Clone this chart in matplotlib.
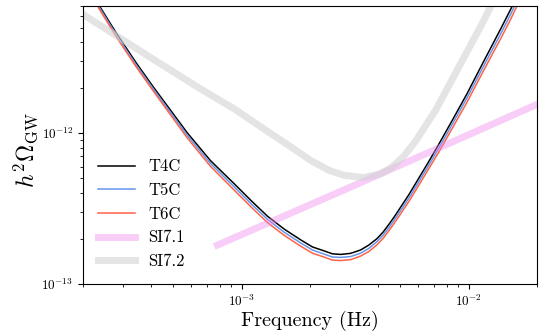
import matplotlib
matplotlib.use("Agg")
import matplotlib.pyplot as plt
from matplotlib.ticker import NullFormatter

plt.rcParams["font.family"] = "cmr10"
plt.rcParams["mathtext.fontset"] = "cm"
plt.rcParams["axes.formatter.use_mathtext"] = True

# sensitivity curves
freq_t = [2.2e-4, 2.37e-4, 2.81e-4, 3.44e-4, 4.11e-4, 5.77e-4, 7.3e-4, 9.25e-4,
          1.10e-3, 1.30e-3, 1.54e-3, 1.82e-3, 2.05e-3, 2.30e-3, 2.51e-3, 2.73e-3,
          3.02e-3, 3.34e-3, 3.63e-3, 3.95e-3, 4.20e-3, 4.45e-3, 4.72e-3, 5.01e-3,
          5.46e-3, 5.93e-3, 6.61e-3, 7.38e-3, 8.51e-3, 9.83e-3, 1.16e-2, 1.38e-2,
          1.53e-2, 1.6e-2, 1.7e-2]
t4c = [8.36e-12, 6.90e-12, 4.57e-12, 2.90e-12, 1.99e-12, 1.00e-12, 6.55e-13, 4.63e-13,
       3.57e-13, 2.81e-13, 2.31e-13, 1.96e-13, 1.76e-13, 1.66e-13, 1.585e-13, 1.57e-13,
       1.596e-13, 1.68e-13, 1.81e-13, 2.00e-13, 2.21e-13, 2.48e-13, 2.81e-13, 3.22e-13,
       3.92e-13, 4.82e-13, 6.32e-13, 8.41e-13, 1.23e-12, 1.82e-12, 2.95e-12, 4.86e-12,
       6.59e-12, 7.60e-12, 9.10e-12]
t5c = [8.15e-12, 6.73e-12, 4.45e-12, 2.81e-12, 1.93e-12, 9.62e-13, 6.27e-13, 4.41e-13,
       3.40e-13, 2.68e-13, 2.20e-13, 1.87e-13, 1.68e-13, 1.58e-13, 1.51e-13, 1.50e-13,
       1.52e-13, 1.60e-13, 1.72e-13, 1.91e-13, 2.11e-13, 2.36e-13, 2.68e-13, 3.06e-13,
       3.72e-13, 4.57e-13, 5.98e-13, 7.92e-13, 1.16e-12, 1.71e-12, 2.75e-12, 4.51e-12,
       6.11e-12, 7.05e-12, 8.44e-12]
t6c = [7.95e-12, 6.56e-12, 4.32e-12, 2.73e-12, 1.87e-12, 9.25e-13, 6.00e-13, 4.20e-13,
       3.24e-13, 2.55e-13, 2.10e-13, 1.78e-13, 1.60e-13, 1.51e-13, 1.44e-13, 1.43e-13,
       1.45e-13, 1.53e-13, 1.64e-13, 1.82e-13, 2.01e-13, 2.25e-13, 2.55e-13, 2.91e-13,
       3.53e-13, 4.33e-13, 5.67e-13, 7.46e-13, 1.09e-12, 1.60e-12, 2.57e-12, 4.19e-12,
       5.66e-12, 6.53e-12, 7.82e-12]

# SI7.1 power law
freq_si71 = [7.82e-4, 3.0e-3, 1.0e-2, 3.0e-2]
si71 = [1.81e-13, 4.37e-13, 9.75e-13, 2.03e-12]

# SI7.2
freq_si72 = [1.8e-4, 1.99e-4, 3.91e-4, 6.49e-4, 9.25e-4, 1.34e-3, 1.61e-3, 2.01e-3,
             2.42e-3, 2.82e-3, 3.45e-3, 4.09e-3, 4.60e-3, 5.18e-3, 5.83e-3, 7.14e-3,
             9.04e-3, 1.144e-2, 1.246e-2, 1.315e-2]
si72 = [6.8e-12, 6.14e-12, 3.21e-12, 1.99e-12, 1.45e-12, 9.95e-13, 8.29e-13, 6.60e-13,
        5.67e-13, 5.25e-13, 5.07e-13, 5.37e-13, 5.96e-13, 7.03e-13, 8.81e-13, 1.41e-12,
        2.73e-12, 5.28e-12, 6.81e-12, 7.9e-12]

fig = plt.figure(figsize=(5.4, 3.34), dpi=100)
ax = fig.add_axes([83 / 540, 50 / 334, 454 / 540, 278.5 / 334])

ax.loglog(freq_t, t4c, color="black", lw=1.1, label="T4C")
ax.loglog(freq_t, t5c, color="cornflowerblue", lw=1.1, label="T5C")
ax.loglog(freq_t, t6c, color="tomato", lw=1.1, label="T6C")
ax.loglog(freq_si71, si71, color="violet", alpha=0.4, lw=5, label="SI7.1")
ax.loglog(freq_si72, si72, color="lightgray", alpha=0.6, lw=5, label="SI7.2")

ax.set_xlim(2e-4, 2e-2)
ax.set_ylim(1e-13, 7e-12)
ax.xaxis.set_minor_formatter(NullFormatter())
ax.yaxis.set_minor_formatter(NullFormatter())
ax.tick_params(labelsize=9.5)
ax.set_xlabel("Frequency (Hz)", fontsize=14.5, labelpad=1)
ax.set_ylabel(r"$h^2\Omega_{\rm GW}$", fontsize=17)
ax.yaxis.set_label_coords(-0.095, 0.48)

ax.legend(loc="lower left", frameon=False, fontsize=12, handlelength=2.2,
          handletextpad=0.8, labelspacing=0.5)

fig.savefig("out.png", dpi=100)
